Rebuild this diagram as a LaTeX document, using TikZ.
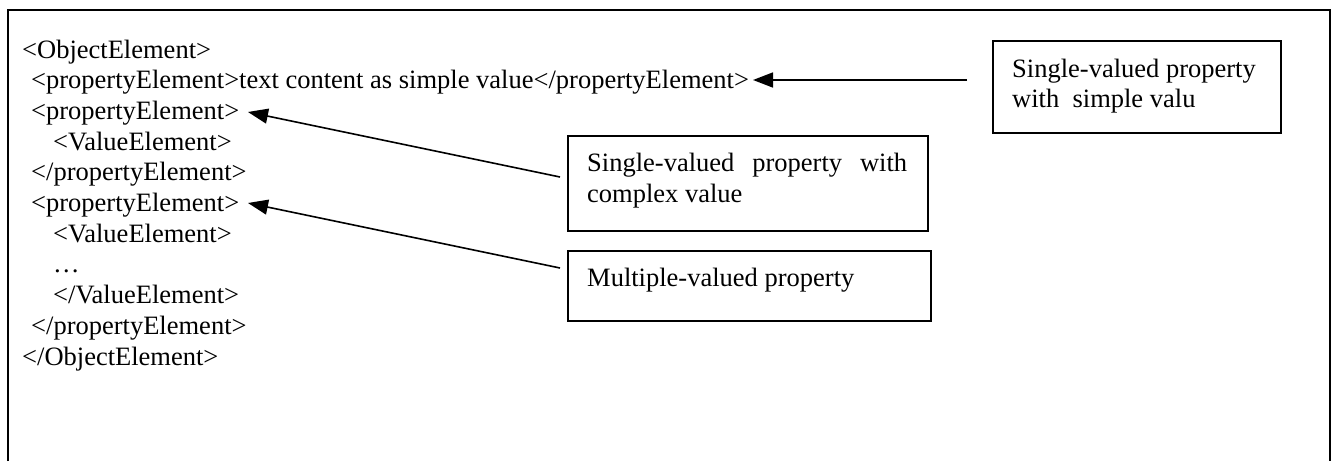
\documentclass[tikz,border=0pt]{standalone}
\usepackage{fontspec}
\setmainfont{Liberation Serif}
\usetikzlibrary{arrows.meta}
\begin{document}
\begin{tikzpicture}[x=1pt,y=-1pt,
  txt/.style={anchor=base west, inner sep=0pt, font=\fontsize{26.5}{30.7}\selectfont},
  callout/.style={draw, line width=1.8pt, anchor=north west, inner sep=0pt},
  pointer/.style={line width=1.6pt, -{Triangle[length=20pt,width=15pt]}},
  frame/.style={line width=2pt}]
\useasboundingbox (0,0) rectangle (1336,461);

% open frame (no bottom edge)
\draw[frame] (8,461) -- (8,10) -- (1330,10) -- (1330,461);

% XML listing
\node[txt] (l1)  at (22,58)    {<ObjectElement>};
\node[txt] (l2)  at (31,88.7)  {<propertyElement>text content as simple value</propertyElement>};
\node[txt] (l3)  at (31,119.4) {<propertyElement>};
\node[txt] (l4)  at (53,150.1) {<ValueElement>};
\node[txt] (l5)  at (31,180.8) {</propertyElement>};
\node[txt] (l6)  at (31,211.5) {<propertyElement>};
\node[txt] (l7)  at (53,242.2) {<ValueElement>};
\node[txt] (l8)  at (53,272.9) {…};
\node[txt] (l9)  at (53,303.6) {</ValueElement>};
\node[txt] (l10) at (31,334.3) {</propertyElement>};
\node[txt] (l11) at (22,365)   {</ObjectElement>};

% callout boxes
\node[callout, minimum width=288pt, minimum height=92pt] (simplebox)  at (992,40)  {};
\node[callout, minimum width=360pt, minimum height=95pt] (complexbox) at (567,135) {};
\node[callout, minimum width=363pt, minimum height=70pt] (multibox)   at (567,250) {};

\node[txt] (s1) at (1012,77)  {Single-valued property};
\node[txt] (s2) at (1012,107) {with\ \ simple valu};
\node[txt] (c1) at (587,171)  {\makebox[320pt][s]{Single-valued property with}};
\node[txt] (c2) at (587,202)  {complex value};
\node[txt] (m1) at (587,286)  {Multiple-valued property};

% connector ends
\coordinate (tailA) at (967,80);
\coordinate (headA) at (753,80);
\coordinate (tailB) at (560,177);
\coordinate (headB) at (248,112);
\coordinate (tailC) at (560,268);
\coordinate (headC) at (248,203);

\draw[pointer] (tailA) -- (headA);
\draw[pointer] (tailB) -- (headB);
\draw[pointer] (tailC) -- (headC);
\end{tikzpicture}
\end{document}
